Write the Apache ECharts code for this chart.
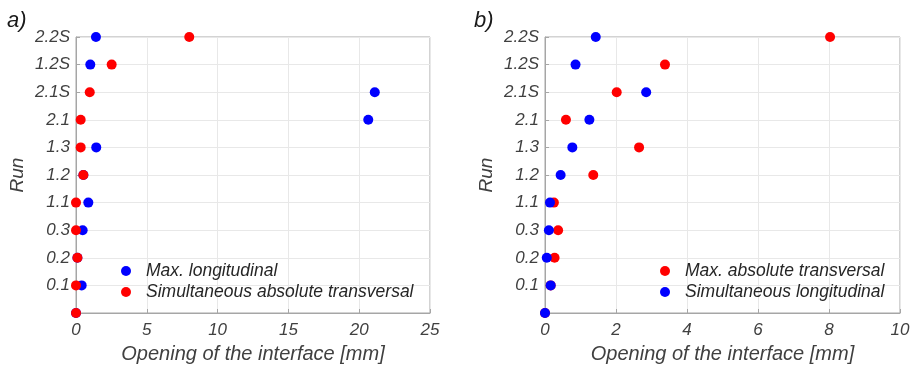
<!DOCTYPE html>
<html>
<head>
<meta charset="utf-8">
<script src="https://cdn.jsdelivr.net/npm/echarts@6/dist/echarts.min.js"></script>
<style>
  html, body { margin: 0; padding: 0; background: #fff; }
  #chart { width: 915px; height: 366px; }
</style>
</head>
<body>
<div id="chart"></div>
<script>
// runs on the y axis, bottom slot is empty
const runs = ['', '0.1', '0.2', '0.3', '1.1', '1.2', '1.3', '2.1', '2.1S', '1.2S', '2.2S'];

// panel a)
const aMaxLongitudinal = [0, 0.4, 0.1, 0.47, 0.87, 0.52, 1.43, 20.64, 21.1, 1.01, 1.41];
const aSimTransversal = [0, 0, 0.1, 0, 0, 0.52, 0.33, 0.33, 0.97, 2.52, 8.0];

// panel b)
const bMaxTransversal = [0, 0.16, 0.27, 0.37, 0.25, 1.36, 2.65, 0.59, 2.02, 3.38, 8.03];
const bSimLongitudinal = [0, 0.16, 0.05, 0.11, 0.14, 0.44, 0.77, 1.25, 2.85, 0.86, 1.43];

const aTicks = { min: 0, max: 25, interval: 5 };
const bTicks = { min: 0, max: 10, interval: 2 };

const RED = '#ff0000';
const BLUE = '#0000ff';
const TEXT = '#404040';
const FONT = 'Liberation Sans';

const chart = echarts.init(document.getElementById('chart'));

function pairs(vals) {
  return vals.map((v, i) => [v, runs[i]]);
}

function xAxis(idx, ticks) {
  return {
    type: 'value',
    gridIndex: idx,
    min: ticks.min,
    max: ticks.max,
    interval: ticks.interval,
    name: 'Opening of the interface [mm]',
    nameLocation: 'middle',
    nameGap: 31,
    nameTextStyle: { color: TEXT, fontSize: 20, fontStyle: 'italic', fontFamily: FONT },
    axisLine: { show: true, lineStyle: { color: '#a6a6a6' } },
    axisTick: { show: true, inside: true, length: 4, lineStyle: { color: '#a6a6a6' } },
    axisLabel: { color: TEXT, fontSize: 17, fontStyle: 'italic', fontFamily: FONT, margin: 9 },
    splitLine: { show: true, lineStyle: { color: '#e8e8e8' } }
  };
}

function yAxis(idx) {
  return {
    type: 'category',
    gridIndex: idx,
    data: runs,
    boundaryGap: false,
    name: 'Run',
    nameLocation: 'middle',
    nameGap: 49,
    nameTextStyle: { color: TEXT, fontSize: 19, fontStyle: 'italic', fontFamily: FONT },
    axisLine: { show: true, lineStyle: { color: '#a6a6a6' } },
    axisTick: { show: true, inside: true, length: 4, alignWithLabel: true, lineStyle: { color: '#a6a6a6' } },
    axisLabel: { color: TEXT, fontSize: 17, fontStyle: 'italic', fontFamily: FONT, margin: 6, interval: 0 },
    splitLine: { show: true, lineStyle: { color: '#e8e8e8' } }
  };
}

function scatter(name, idx, vals, color) {
  return {
    name: name,
    type: 'scatter',
    xAxisIndex: idx,
    yAxisIndex: idx,
    symbolSize: 10,
    clip: false,
    itemStyle: { color: color, opacity: 1 },
    data: pairs(vals)
  };
}

function legend(left, names) {
  return {
    left: left,
    top: 256,
    orient: 'vertical',
    icon: 'circle',
    itemWidth: 10,
    itemHeight: 10,
    itemGap: 1,
    data: names,
    textStyle: { color: '#262626', fontSize: 17.5, lineHeight: 20, fontStyle: 'italic', fontFamily: FONT, padding: [0, 0, 0, 10] }
  };
}

const option = {
  animation: false,
  title: [
    { text: 'a)', left: 2, top: 5, textStyle: { fontSize: 22, fontStyle: 'italic', fontWeight: 'normal', color: '#1a1a1a', fontFamily: FONT } },
    { text: 'b)', left: 469, top: 5, textStyle: { fontSize: 22, fontStyle: 'italic', fontWeight: 'normal', color: '#1a1a1a', fontFamily: FONT } }
  ],
  grid: [
    { left: 76, top: 37, width: 354, height: 276, outerBoundsMode: 'none', show: true, borderColor: '#a6a6a6', backgroundColor: '#fff' },
    { left: 545, top: 37, width: 355, height: 276, outerBoundsMode: 'none', show: true, borderColor: '#a6a6a6', backgroundColor: '#fff' }
  ],
  xAxis: [xAxis(0, aTicks), xAxis(1, bTicks)],
  yAxis: [yAxis(0), yAxis(1)],
  legend: [
    legend(116, ['Max. longitudinal', 'Simultaneous absolute transversal']),
    legend(655, ['Max. absolute transversal', 'Simultaneous longitudinal'])
  ],
  series: [
    scatter('Max. longitudinal', 0, aMaxLongitudinal, BLUE),
    scatter('Simultaneous absolute transversal', 0, aSimTransversal, RED),
    scatter('Max. absolute transversal', 1, bMaxTransversal, RED),
    scatter('Simultaneous longitudinal', 1, bSimLongitudinal, BLUE)
  ]
};

chart.setOption(option);
</script>
</body>
</html>
